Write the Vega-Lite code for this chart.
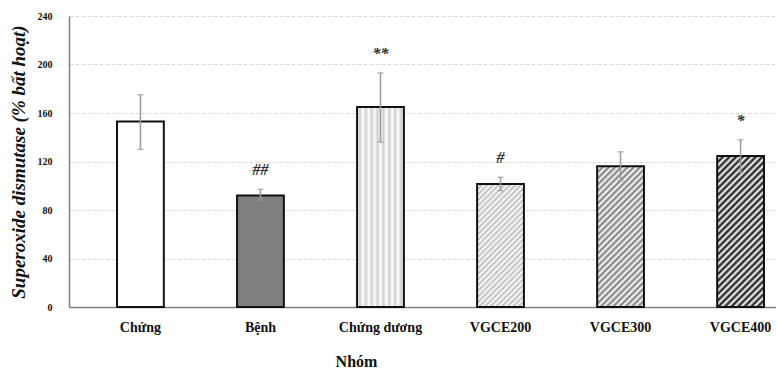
{
  "$schema": "https://vega.github.io/schema/vega-lite/v6.json",
  "width": 743,
  "height": 291,
  "autosize": {"type": "none"},
  "padding": {"left": 69, "top": 16, "right": -36, "bottom": 65},
  "background": "white",
  "data": {
    "values": [
      {"group": "Chứng", "mean": 153, "lo": 130, "hi": 175, "sig": ""},
      {"group": "Bệnh", "mean": 92, "lo": 88, "hi": 97, "sig": "##"},
      {"group": "Chứng dương", "mean": 165, "lo": 136, "hi": 193, "sig": "**"},
      {"group": "VGCE200", "mean": 101.5, "lo": 96, "hi": 107, "sig": "#"},
      {"group": "VGCE300", "mean": 116, "lo": 104, "hi": 128, "sig": ""},
      {"group": "VGCE400", "mean": 124.5, "lo": 111, "hi": 138, "sig": "*"}
    ]
  },
  "encoding": {
    "x": {
      "field": "group",
      "type": "nominal",
      "sort": null,
      "scale": {"paddingInner": 0.61, "paddingOuter": 0.4},
      "axis": {
        "title": "Nhóm",
        "labelAngle": 0,
        "ticks": false,
        "domainColor": "#808080",
        "domainWidth": 1.5,
        "labelFont": "Liberation Serif",
        "labelFontWeight": "bold",
        "labelFontSize": 14,
        "labelColor": "#111",
        "labelPadding": 13,
        "titleFont": "Liberation Serif",
        "titleFontWeight": "bold",
        "titleFontSize": 16,
        "titleColor": "#111",
        "titlePadding": 19,
        "titleX": 287
      }
    }
  },
  "layer": [
    {
      "mark": {"type": "bar", "stroke": "#111", "strokeWidth": 2},
      "encoding": {
        "y": {
          "field": "mean",
          "type": "quantitative",
          "title": "Superoxide dismutase (% bất hoạt)",
          "scale": {"domain": [0, 240]},
          "axis": {
            "values": [0, 40, 80, 120, 160, 200, 240],
            "ticks": false,
            "domainColor": "#808080",
            "domainWidth": 1.5,
            "gridColor": "#dcdcdc",
            "gridDash": [4, 2],
            "labelFont": "Liberation Serif",
            "labelFontWeight": "bold",
            "labelFontSize": 10,
            "labelColor": "#111",
            "labelPadding": 17,
            "titleFont": "Liberation Serif",
            "titleFontWeight": "bold",
            "titleFontStyle": "italic",
            "titleFontSize": 19,
            "titleColor": "#111",
            "titlePadding": 9
          }
        },
        "fill": {
          "condition": [
            {"test": "datum.group === 'Bệnh'", "value": "#7f7f7f"},
            {"test": "datum.group === 'Chứng dương'", "value": {"gradient": "linear", "x1": 0, "y1": 0, "x2": 1, "y2": 0, "stops": [
              {"offset": 0, "color": "#ffffff"}, {"offset": 0.0625, "color": "#cfcfcf"}, {"offset": 0.125, "color": "#ffffff"}, {"offset": 0.1875, "color": "#cfcfcf"}, {"offset": 0.25, "color": "#ffffff"}, {"offset": 0.3125, "color": "#cfcfcf"}, {"offset": 0.375, "color": "#ffffff"}, {"offset": 0.4375, "color": "#cfcfcf"}, {"offset": 0.5, "color": "#ffffff"}, {"offset": 0.5625, "color": "#cfcfcf"}, {"offset": 0.625, "color": "#ffffff"}, {"offset": 0.6875, "color": "#cfcfcf"}, {"offset": 0.75, "color": "#ffffff"}, {"offset": 0.8125, "color": "#cfcfcf"}, {"offset": 0.875, "color": "#ffffff"}, {"offset": 0.9375, "color": "#cfcfcf"}, {"offset": 1, "color": "#ffffff"}
            ]}},
            {"test": "datum.group === 'VGCE200'", "value": {"gradient": "linear", "x1": 0, "y1": 0, "x2": 0.461, "y2": 1.206, "stops": [
              {"offset": 0, "color": "#bdbdbd"}, {"offset": 0.0167, "color": "#ffffff"}, {"offset": 0.0333, "color": "#bdbdbd"}, {"offset": 0.05, "color": "#ffffff"}, {"offset": 0.0667, "color": "#bdbdbd"}, {"offset": 0.0833, "color": "#ffffff"}, {"offset": 0.1, "color": "#bdbdbd"}, {"offset": 0.1167, "color": "#ffffff"}, {"offset": 0.1333, "color": "#bdbdbd"}, {"offset": 0.15, "color": "#ffffff"}, {"offset": 0.1667, "color": "#bdbdbd"}, {"offset": 0.1833, "color": "#ffffff"}, {"offset": 0.2, "color": "#bdbdbd"}, {"offset": 0.2167, "color": "#ffffff"}, {"offset": 0.2333, "color": "#bdbdbd"}, {"offset": 0.25, "color": "#ffffff"}, {"offset": 0.2667, "color": "#bdbdbd"}, {"offset": 0.2833, "color": "#ffffff"}, {"offset": 0.3, "color": "#bdbdbd"}, {"offset": 0.3167, "color": "#ffffff"}, {"offset": 0.3333, "color": "#bdbdbd"}, {"offset": 0.35, "color": "#ffffff"}, {"offset": 0.3667, "color": "#bdbdbd"}, {"offset": 0.3833, "color": "#ffffff"}, {"offset": 0.4, "color": "#bdbdbd"}, {"offset": 0.4167, "color": "#ffffff"}, {"offset": 0.4333, "color": "#bdbdbd"}, {"offset": 0.45, "color": "#ffffff"}, {"offset": 0.4667, "color": "#bdbdbd"}, {"offset": 0.4833, "color": "#ffffff"}, {"offset": 0.5, "color": "#bdbdbd"}, {"offset": 0.5167, "color": "#ffffff"}, {"offset": 0.5333, "color": "#bdbdbd"}, {"offset": 0.55, "color": "#ffffff"}, {"offset": 0.5667, "color": "#bdbdbd"}, {"offset": 0.5833, "color": "#ffffff"}, {"offset": 0.6, "color": "#bdbdbd"}, {"offset": 0.6167, "color": "#ffffff"}, {"offset": 0.6333, "color": "#bdbdbd"}, {"offset": 0.65, "color": "#ffffff"}, {"offset": 0.6667, "color": "#bdbdbd"}, {"offset": 0.6833, "color": "#ffffff"}, {"offset": 0.7, "color": "#bdbdbd"}, {"offset": 0.7167, "color": "#ffffff"}, {"offset": 0.7333, "color": "#bdbdbd"}, {"offset": 0.75, "color": "#ffffff"}, {"offset": 0.7667, "color": "#bdbdbd"}, {"offset": 0.7833, "color": "#ffffff"}, {"offset": 0.8, "color": "#bdbdbd"}, {"offset": 0.8167, "color": "#ffffff"}, {"offset": 0.8333, "color": "#bdbdbd"}, {"offset": 0.85, "color": "#ffffff"}, {"offset": 0.8667, "color": "#bdbdbd"}, {"offset": 0.8833, "color": "#ffffff"}, {"offset": 0.9, "color": "#bdbdbd"}, {"offset": 0.9167, "color": "#ffffff"}, {"offset": 0.9333, "color": "#bdbdbd"}, {"offset": 0.95, "color": "#ffffff"}, {"offset": 0.9667, "color": "#bdbdbd"}, {"offset": 0.9833, "color": "#ffffff"}, {"offset": 1, "color": "#bdbdbd"}
            ]}},
            {"test": "datum.group === 'VGCE300'", "value": {"gradient": "linear", "x1": 0, "y1": 0, "x2": 0.4, "y2": 1.2, "stops": [
              {"offset": 0, "color": "#7a7a7a"}, {"offset": 0.0167, "color": "#ffffff"}, {"offset": 0.0333, "color": "#7a7a7a"}, {"offset": 0.05, "color": "#ffffff"}, {"offset": 0.0667, "color": "#7a7a7a"}, {"offset": 0.0833, "color": "#ffffff"}, {"offset": 0.1, "color": "#7a7a7a"}, {"offset": 0.1167, "color": "#ffffff"}, {"offset": 0.1333, "color": "#7a7a7a"}, {"offset": 0.15, "color": "#ffffff"}, {"offset": 0.1667, "color": "#7a7a7a"}, {"offset": 0.1833, "color": "#ffffff"}, {"offset": 0.2, "color": "#7a7a7a"}, {"offset": 0.2167, "color": "#ffffff"}, {"offset": 0.2333, "color": "#7a7a7a"}, {"offset": 0.25, "color": "#ffffff"}, {"offset": 0.2667, "color": "#7a7a7a"}, {"offset": 0.2833, "color": "#ffffff"}, {"offset": 0.3, "color": "#7a7a7a"}, {"offset": 0.3167, "color": "#ffffff"}, {"offset": 0.3333, "color": "#7a7a7a"}, {"offset": 0.35, "color": "#ffffff"}, {"offset": 0.3667, "color": "#7a7a7a"}, {"offset": 0.3833, "color": "#ffffff"}, {"offset": 0.4, "color": "#7a7a7a"}, {"offset": 0.4167, "color": "#ffffff"}, {"offset": 0.4333, "color": "#7a7a7a"}, {"offset": 0.45, "color": "#ffffff"}, {"offset": 0.4667, "color": "#7a7a7a"}, {"offset": 0.4833, "color": "#ffffff"}, {"offset": 0.5, "color": "#7a7a7a"}, {"offset": 0.5167, "color": "#ffffff"}, {"offset": 0.5333, "color": "#7a7a7a"}, {"offset": 0.55, "color": "#ffffff"}, {"offset": 0.5667, "color": "#7a7a7a"}, {"offset": 0.5833, "color": "#ffffff"}, {"offset": 0.6, "color": "#7a7a7a"}, {"offset": 0.6167, "color": "#ffffff"}, {"offset": 0.6333, "color": "#7a7a7a"}, {"offset": 0.65, "color": "#ffffff"}, {"offset": 0.6667, "color": "#7a7a7a"}, {"offset": 0.6833, "color": "#ffffff"}, {"offset": 0.7, "color": "#7a7a7a"}, {"offset": 0.7167, "color": "#ffffff"}, {"offset": 0.7333, "color": "#7a7a7a"}, {"offset": 0.75, "color": "#ffffff"}, {"offset": 0.7667, "color": "#7a7a7a"}, {"offset": 0.7833, "color": "#ffffff"}, {"offset": 0.8, "color": "#7a7a7a"}, {"offset": 0.8167, "color": "#ffffff"}, {"offset": 0.8333, "color": "#7a7a7a"}, {"offset": 0.85, "color": "#ffffff"}, {"offset": 0.8667, "color": "#7a7a7a"}, {"offset": 0.8833, "color": "#ffffff"}, {"offset": 0.9, "color": "#7a7a7a"}, {"offset": 0.9167, "color": "#ffffff"}, {"offset": 0.9333, "color": "#7a7a7a"}, {"offset": 0.95, "color": "#ffffff"}, {"offset": 0.9667, "color": "#7a7a7a"}, {"offset": 0.9833, "color": "#ffffff"}, {"offset": 1, "color": "#7a7a7a"}
            ]}},
            {"test": "datum.group === 'VGCE400'", "value": {"gradient": "linear", "x1": 0, "y1": 0, "x2": 0.372, "y2": 1.195, "stops": [
              {"offset": 0, "color": "#111111"}, {"offset": 0.0167, "color": "#ffffff"}, {"offset": 0.0333, "color": "#111111"}, {"offset": 0.05, "color": "#ffffff"}, {"offset": 0.0667, "color": "#111111"}, {"offset": 0.0833, "color": "#ffffff"}, {"offset": 0.1, "color": "#111111"}, {"offset": 0.1167, "color": "#ffffff"}, {"offset": 0.1333, "color": "#111111"}, {"offset": 0.15, "color": "#ffffff"}, {"offset": 0.1667, "color": "#111111"}, {"offset": 0.1833, "color": "#ffffff"}, {"offset": 0.2, "color": "#111111"}, {"offset": 0.2167, "color": "#ffffff"}, {"offset": 0.2333, "color": "#111111"}, {"offset": 0.25, "color": "#ffffff"}, {"offset": 0.2667, "color": "#111111"}, {"offset": 0.2833, "color": "#ffffff"}, {"offset": 0.3, "color": "#111111"}, {"offset": 0.3167, "color": "#ffffff"}, {"offset": 0.3333, "color": "#111111"}, {"offset": 0.35, "color": "#ffffff"}, {"offset": 0.3667, "color": "#111111"}, {"offset": 0.3833, "color": "#ffffff"}, {"offset": 0.4, "color": "#111111"}, {"offset": 0.4167, "color": "#ffffff"}, {"offset": 0.4333, "color": "#111111"}, {"offset": 0.45, "color": "#ffffff"}, {"offset": 0.4667, "color": "#111111"}, {"offset": 0.4833, "color": "#ffffff"}, {"offset": 0.5, "color": "#111111"}, {"offset": 0.5167, "color": "#ffffff"}, {"offset": 0.5333, "color": "#111111"}, {"offset": 0.55, "color": "#ffffff"}, {"offset": 0.5667, "color": "#111111"}, {"offset": 0.5833, "color": "#ffffff"}, {"offset": 0.6, "color": "#111111"}, {"offset": 0.6167, "color": "#ffffff"}, {"offset": 0.6333, "color": "#111111"}, {"offset": 0.65, "color": "#ffffff"}, {"offset": 0.6667, "color": "#111111"}, {"offset": 0.6833, "color": "#ffffff"}, {"offset": 0.7, "color": "#111111"}, {"offset": 0.7167, "color": "#ffffff"}, {"offset": 0.7333, "color": "#111111"}, {"offset": 0.75, "color": "#ffffff"}, {"offset": 0.7667, "color": "#111111"}, {"offset": 0.7833, "color": "#ffffff"}, {"offset": 0.8, "color": "#111111"}, {"offset": 0.8167, "color": "#ffffff"}, {"offset": 0.8333, "color": "#111111"}, {"offset": 0.85, "color": "#ffffff"}, {"offset": 0.8667, "color": "#111111"}, {"offset": 0.8833, "color": "#ffffff"}, {"offset": 0.9, "color": "#111111"}, {"offset": 0.9167, "color": "#ffffff"}, {"offset": 0.9333, "color": "#111111"}, {"offset": 0.95, "color": "#ffffff"}, {"offset": 0.9667, "color": "#111111"}, {"offset": 0.9833, "color": "#ffffff"}, {"offset": 1, "color": "#111111"}
            ]}}
          ],
          "value": "#ffffff"
        }
      }
    },
    {
      "mark": {"type": "errorbar", "color": "#9a9a9a", "thickness": 1.5, "ticks": {"size": 6}},
      "encoding": {
        "y": {"field": "lo", "type": "quantitative", "title": "Superoxide dismutase (% bất hoạt)"},
        "y2": {"field": "hi"}
      }
    },
    {
      "mark": {"type": "text", "font": "Liberation Serif", "fontWeight": "bold", "fontStyle": "italic", "fontSize": 16, "color": "#333", "baseline": "middle", "dy": -19},
      "encoding": {
        "y": {"field": "hi", "type": "quantitative", "title": "Superoxide dismutase (% bất hoạt)"},
        "text": {"field": "sig"}
      }
    }
  ],
  "config": {"view": {"stroke": null}}
}
